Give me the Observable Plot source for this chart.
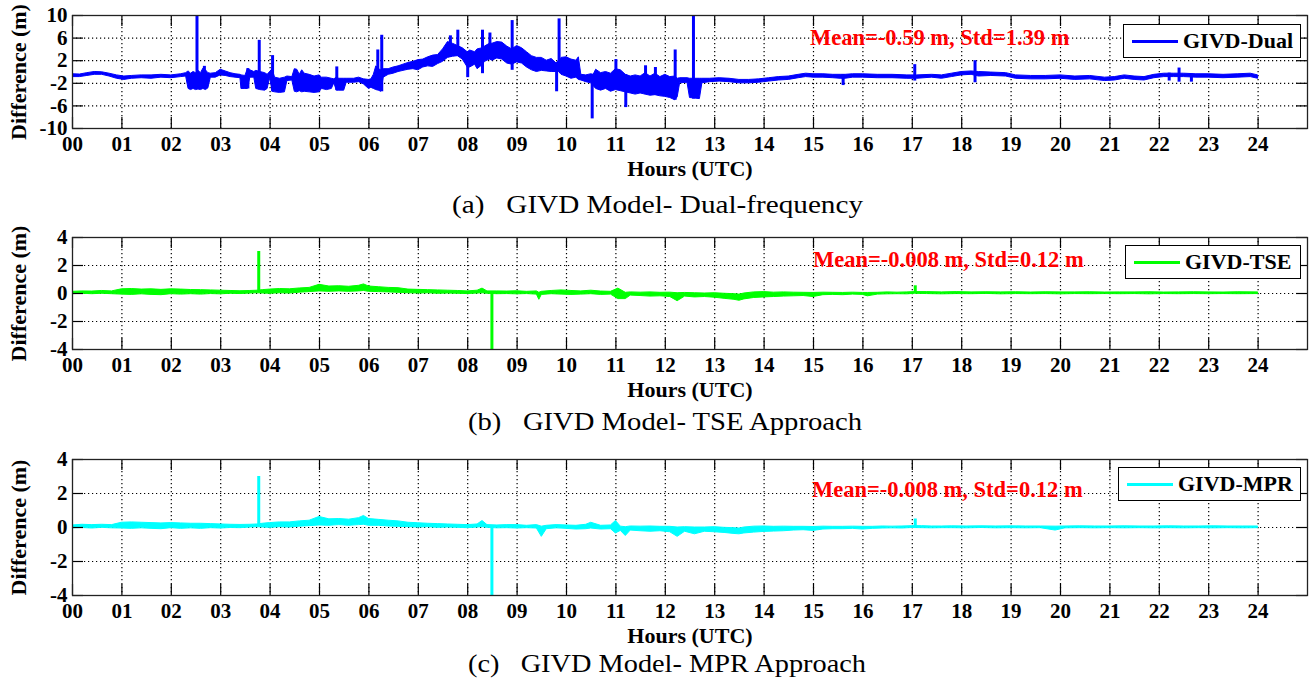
<!DOCTYPE html>
<html><head><meta charset="utf-8">
<script src="https://cdn.jsdelivr.net/npm/d3@7"></script>
<script src="https://cdn.jsdelivr.net/npm/@observablehq/plot@0.6"></script>
<style>
html,body{margin:0;padding:0;background:#fff;overflow:hidden;}
#fig{position:relative;width:1314px;height:682px;font-family:"Liberation Serif","Times New Roman",serif;color:#000;}
.panel{position:absolute;left:0;}
.caption{position:absolute;font-size:25px;line-height:25px;white-space:pre;transform-origin:0 50%;}
.stat{position:absolute;color:#ff0000;font-weight:bold;font-size:22.5px;line-height:22px;white-space:pre;}
.legend{position:absolute;border:1px solid #000;background:#fff;display:flex;align-items:center;font-weight:bold;font-size:22px;box-sizing:border-box;}
.legend .sw{display:inline-block;width:46px;height:0;border-top:3px solid;margin:0 5px 0 8px;}
</style></head>
<body><div id="fig"></div>
<script>
// ---------- shared axis values ----------
const hourTicks = [0,1,2,3,4,5,6,7,8,9,10,11,12,13,14,15,16,17,18,19,20,21,22,23,24];
const hourLabels = ["00","01","02","03","04","05","06","07","08","09","10","11","12","13","14","15","16","17","18","19","20","21","22","23","24"];
const dualTicks = [-10,-6,-2,2,6,10];
const approachTicks = [-4,-2,0,2,4];

// ---------- (a) GIVD-Dual : band (low/high envelope of the trace) ----------
const dualHour = [
0.00,0.15,0.30,0.45,0.60,0.75,0.90,1.05,1.20,1.40,
1.60,1.80,2.00,2.20,2.30,2.35,2.40,2.45,2.50,2.55,
2.60,2.65,2.70,2.75,2.80,2.90,3.00,3.10,3.20,3.30,
3.40,3.42,3.50,3.55,3.60,3.68,3.72,3.80,3.90,3.95,
4.00,4.05,4.10,4.20,4.30,4.35,4.45,4.50,4.55,4.60,
4.65,4.70,4.80,4.90,5.00,5.05,5.15,5.25,5.30,5.35,
5.40,5.50,5.55,5.70,5.80,5.90,6.00,6.05,6.10,6.15,
6.20,6.25,6.30,6.40,6.50,6.60,6.70,6.80,6.90,7.00,
7.10,7.20,7.30,7.40,7.50,7.60,7.70,7.80,7.90,8.00,
8.05,8.15,8.20,8.30,8.35,8.45,8.50,8.60,8.70,8.80,
8.90,9.00,9.10,9.20,9.30,9.40,9.50,9.60,9.70,9.80,
9.85,9.90,10.00,10.10,10.20,10.25,10.30,10.40,10.50,10.55,
10.60,10.70,10.80,10.90,11.00,11.10,11.20,11.30,11.40,11.50,
11.60,11.70,11.80,11.90,12.00,12.10,12.20,12.25,12.30,12.45,
12.50,12.60,12.70,12.75,12.90,13.10,13.30,13.50,13.70,13.90,
14.10,14.30,14.50,14.70,14.85,15.00,15.20,15.40,15.55,15.65,
15.80,16.00,16.30,16.60,16.90,17.10,17.40,17.60,17.80,18.00,
18.20,18.35,18.60,18.90,19.10,19.40,19.70,20.00,20.30,20.60,
20.90,21.10,21.30,21.50,21.70,21.90,22.10,22.30,22.50,22.75,
23.00,23.30,23.60,23.85,24.00];
const dualLow = [
-0.9,-0.9,-0.7,-0.5,-0.5,-0.8,-1.2,-1.4,-1.2,-1.1,
-1.2,-1.0,-1.1,-0.9,-0.8,-3.0,-3.2,-3.0,-3.2,-3.1,
-3.2,-3.0,-3.2,-2.9,-1.0,-1.0,-0.6,-0.7,-0.9,-1.0,
-1.1,-3.0,-3.0,-3.0,-1.0,-1.0,-3.0,-3.2,-3.3,-3.0,
-1.0,-3.5,-3.6,-3.7,-3.6,-1.6,-1.5,-3.5,-3.6,-3.4,
-3.6,-3.5,-3.6,-3.7,-3.6,-3.0,-3.2,-3.0,-2.0,-3.3,
-3.3,-3.3,-1.9,-1.9,-1.8,-2.2,-3.0,-2.8,-3.0,-3.2,
-3.3,-3.5,-1.0,-0.5,-0.3,0.0,0.2,0.4,0.5,0.3,
0.8,1.0,0.9,1.4,1.8,2.5,2.7,2.8,2.2,0.8,
0.8,1.3,0.5,1.2,1.8,2.2,2.0,2.4,2.2,1.5,
1.3,1.7,1.5,0.8,0.3,0.0,0.2,0.1,0.0,0.0,
0.0,-0.5,-0.8,-1.2,-1.0,-1.4,-1.5,-1.8,-2.0,-2.5,
-3.0,-3.3,-3.0,-3.5,-3.2,-3.4,-3.6,-3.8,-4.0,-3.8,
-4.0,-4.2,-4.1,-4.3,-4.4,-4.6,-5.0,-4.5,-2.0,-1.9,
-4.6,-4.7,-4.8,-2.0,-1.8,-1.7,-1.8,-2.0,-2.0,-1.9,
-1.7,-1.5,-1.4,-1.1,-0.9,-1.0,-1.0,-1.1,-1.2,-1.2,
-1.0,-1.0,-1.1,-1.1,-1.2,-1.2,-1.0,-1.2,-0.9,-0.6,
-0.5,-0.8,-0.7,-0.8,-1.2,-1.3,-1.3,-1.2,-1.4,-1.3,
-1.6,-1.5,-1.2,-1.4,-1.5,-1.1,-0.9,-0.9,-0.9,-1.0,
-1.0,-1.1,-1.0,-0.9,-1.2];
const dualHigh = [
-0.4,-0.45,-0.2,0.0,-0.05,-0.3,-0.6,-0.8,-0.7,-0.6,
-0.6,-0.5,-0.6,-0.4,-0.2,0.1,-0.3,0.0,-0.2,0.2,
-0.2,0.6,0.3,-0.2,-0.3,-0.2,0.4,0.1,-0.2,-0.4,
-0.5,-0.6,-0.7,0.5,0.3,0.0,0.2,0.0,-0.2,-0.5,
0.0,0.5,-1.0,-1.2,-1.0,-0.8,-0.9,0.5,0.4,-0.5,
0.3,-0.3,-0.5,-0.8,-0.6,-1.0,-1.0,-1.2,-1.3,-1.0,
-1.2,-1.2,-1.2,-1.2,-1.0,-1.3,-1.4,-1.3,-0.5,1.0,
0.5,0.3,0.5,0.5,0.8,1.0,1.3,1.6,1.8,2.1,
2.2,2.6,2.9,3.0,4.0,5.3,5.0,4.6,4.2,3.5,
3.8,3.5,4.0,4.2,4.5,5.0,5.0,5.3,5.2,4.5,
4.0,4.6,4.2,3.5,2.8,2.5,2.5,2.0,2.3,1.5,
2.0,2.5,2.6,2.2,2.0,2.6,-0.5,-0.6,-0.4,-0.5,
0.4,-0.2,0.0,-0.3,0.5,0.3,-0.5,-0.8,-0.6,-0.8,
-0.2,-0.8,-0.3,-0.9,-0.5,-0.9,-0.8,-1.2,-1.1,-1.1,
-1.2,-1.2,-1.2,-1.2,-1.2,-1.1,-1.2,-1.4,-1.4,-1.3,
-1.1,-0.9,-0.8,-0.5,-0.3,-0.4,-0.4,-0.5,-0.5,-0.5,
-0.4,-0.4,-0.5,-0.5,-0.6,-0.6,-0.5,-0.6,-0.3,0.0,
0.1,0.0,-0.1,-0.2,-0.6,-0.7,-0.7,-0.6,-0.8,-0.7,
-1.0,-0.9,-0.6,-0.8,-0.9,-0.5,-0.3,-0.3,-0.3,-0.4,
-0.4,-0.5,-0.4,-0.3,-0.6];
// (a) isolated spikes
const dualSpikeHour = [2.52,2.67,3.55,3.78,4.05,5.35,6.18,6.26,7.65,7.80,8.00,8.30,8.45,8.90,9.80,9.85,10.52,11.00,11.20,11.60,11.80,12.20,12.57,15.60,17.05,18.27,22.20,22.40,22.65];
const dualSpikeLow  = [-3.0,-3.0,-3.0,-3.0,-3.5,-3.3,-3.2,-3.5,2.6,2.8,-1.0,-0.3,2.2,0.3,-3.5,0.0,-8.3,-3.2,-6.3,-4.0,-4.1,-5.0,-4.8,-2.4,-1.6,-1.9,-1.6,-1.8,-1.8];
const dualSpikeHigh = [10,1.0,0.6,5.6,2.9,0.9,3.9,6.5,6.4,7.4,3.5,7.4,6.9,9.1,1.5,9.4,-0.5,2.2,-0.5,1.1,0.8,3.9,10,-0.5,1.3,2.0,-0.2,0.7,-0.4];

// ---------- (b) GIVD-TSE ----------
const tseHour = [
0.0,0.2,0.4,0.6,0.8,1.0,1.2,1.4,1.6,1.8,
2.0,2.2,2.4,2.6,2.8,3.0,3.2,3.4,3.6,3.75,
3.85,4.0,4.2,4.4,4.6,4.8,5.0,5.2,5.4,5.6,
5.8,5.9,6.0,6.2,6.4,6.6,6.8,7.0,7.2,7.4,
7.6,7.8,8.0,8.2,8.3,8.4,8.6,8.8,9.0,9.2,
9.4,9.45,9.5,9.7,9.9,10.1,10.3,10.5,10.7,10.9,
11.05,11.2,11.3,11.5,11.7,11.9,12.1,12.25,12.4,12.6,
12.8,13.0,13.2,13.4,13.5,13.6,13.8,14.0,14.2,14.4,
14.6,14.8,15.0,15.2,15.4,15.6,15.8,16.0,16.1,16.3,
16.5,16.7,16.9,17.05,17.3,17.6,17.9,18.2,18.5,18.8,
19.1,19.4,19.7,20.0,20.3,20.6,20.9,21.2,21.5,21.8,
22.1,22.4,22.7,23.0,23.3,23.6,24.0];
const tseLow = [
-0.05,-0.02,-0.05,-0.02,-0.05,-0.08,-0.10,-0.06,-0.10,-0.12,
-0.05,-0.08,-0.05,-0.08,-0.04,-0.06,-0.02,-0.04,0.00,0.02,
0.00,-0.02,0.02,0.00,0.06,0.10,0.15,0.12,0.15,0.12,
0.15,0.18,0.12,0.10,0.08,0.05,0.02,0.00,0.02,-0.02,
0.00,-0.02,-0.04,0.00,0.02,-0.02,-0.05,-0.04,-0.06,-0.04,
-0.08,-0.45,-0.10,-0.05,-0.08,-0.10,-0.08,-0.05,-0.10,-0.08,
-0.40,-0.40,-0.15,-0.18,-0.22,-0.20,-0.25,-0.55,-0.22,-0.28,
-0.25,-0.30,-0.38,-0.45,-0.52,-0.42,-0.32,-0.28,-0.25,-0.22,
-0.20,-0.18,-0.25,-0.12,-0.10,-0.12,-0.08,-0.10,-0.20,-0.08,
-0.06,-0.05,-0.06,-0.02,-0.04,-0.06,-0.04,-0.05,-0.03,-0.06,
-0.04,-0.05,-0.04,-0.06,-0.04,-0.05,-0.04,-0.05,-0.04,-0.06,
-0.04,-0.05,-0.04,-0.05,-0.04,-0.05,-0.04];
const tseHigh = [
0.12,0.15,0.14,0.18,0.15,0.30,0.32,0.28,0.30,0.26,
0.30,0.28,0.25,0.24,0.22,0.20,0.18,0.16,0.18,0.20,
0.24,0.28,0.32,0.30,0.36,0.40,0.62,0.50,0.52,0.48,
0.55,0.65,0.50,0.45,0.40,0.38,0.28,0.26,0.24,0.22,
0.20,0.18,0.15,0.20,0.35,0.15,0.15,0.14,0.16,0.12,
0.15,0.05,0.12,0.18,0.22,0.18,0.15,0.20,0.14,0.12,
0.35,0.05,0.08,0.06,0.08,0.05,0.06,0.02,0.04,0.02,
0.00,0.02,-0.02,-0.05,-0.08,0.00,0.08,0.10,0.06,0.08,
0.06,0.05,0.04,0.06,0.05,0.04,0.06,0.04,0.04,0.05,
0.08,0.06,0.08,0.10,0.10,0.08,0.10,0.08,0.09,0.08,
0.09,0.07,0.09,0.08,0.08,0.09,0.07,0.08,0.08,0.09,
0.07,0.08,0.09,0.08,0.07,0.09,0.08];
const tseSpikeHour = [3.77, 8.49, 17.06];
const tseSpikeLow  = [0.1, -4.0, 0.05];
const tseSpikeHigh = [3.0, 0.0, 0.55];

// ---------- (c) GIVD-MPR ----------
const mprHour = [
0.0,0.2,0.4,0.6,0.8,1.0,1.2,1.4,1.6,1.8,
2.0,2.2,2.4,2.6,2.8,3.0,3.2,3.4,3.6,3.75,
3.85,4.0,4.2,4.4,4.6,4.8,5.0,5.2,5.4,5.6,
5.8,5.9,6.0,6.2,6.4,6.6,6.8,7.0,7.2,7.4,
7.6,7.8,8.0,8.2,8.3,8.4,8.6,8.8,9.0,9.2,
9.4,9.5,9.6,9.8,10.0,10.2,10.4,10.5,10.7,10.9,
11.0,11.1,11.2,11.3,11.5,11.7,11.9,12.1,12.25,12.4,
12.6,12.8,13.0,13.2,13.4,13.5,13.6,13.8,14.0,14.2,
14.4,14.6,14.8,15.0,15.2,15.4,15.6,15.8,16.0,16.2,
16.4,16.6,16.8,17.0,17.2,17.4,17.6,17.8,18.1,18.4,
18.7,19.0,19.3,19.6,19.9,20.1,20.4,20.7,21.0,21.3,
21.6,21.9,22.2,22.5,22.8,23.1,23.4,23.7,24.0];
const mprLow = [
-0.05,-0.03,-0.06,-0.02,-0.05,-0.06,-0.08,-0.05,-0.08,-0.10,
-0.04,-0.08,-0.05,-0.08,-0.04,-0.06,-0.03,-0.04,0.00,0.02,
0.00,-0.02,0.02,0.00,0.05,0.08,0.12,0.10,0.14,0.10,
0.14,0.16,0.10,0.10,0.06,0.04,0.02,0.00,0.02,-0.02,
0.00,-0.02,-0.04,0.00,0.02,-0.02,-0.05,-0.04,-0.06,-0.04,
-0.06,-0.55,-0.10,-0.05,-0.08,-0.12,-0.10,-0.06,-0.12,-0.10,
-0.35,-0.20,-0.50,-0.18,-0.22,-0.25,-0.22,-0.28,-0.55,-0.25,
-0.40,-0.25,-0.28,-0.32,-0.38,-0.40,-0.35,-0.30,-0.26,-0.24,
-0.22,-0.18,-0.16,-0.20,-0.12,-0.10,-0.10,-0.08,-0.12,-0.08,
-0.06,-0.05,-0.06,-0.03,-0.04,-0.05,-0.04,-0.04,-0.05,-0.03,
-0.05,-0.04,-0.05,-0.04,-0.18,-0.05,-0.04,-0.05,-0.04,-0.05,
-0.04,-0.05,-0.04,-0.05,-0.04,-0.05,-0.04,-0.05,-0.04];
const mprHigh = [
0.12,0.16,0.14,0.16,0.14,0.28,0.30,0.28,0.26,0.24,
0.26,0.24,0.22,0.22,0.20,0.18,0.16,0.15,0.16,0.18,
0.22,0.26,0.30,0.30,0.36,0.40,0.62,0.48,0.50,0.46,
0.55,0.68,0.50,0.45,0.40,0.36,0.28,0.25,0.22,0.20,
0.18,0.16,0.14,0.18,0.38,0.14,0.12,0.14,0.14,0.10,
0.14,0.05,0.10,0.14,0.12,0.10,0.16,0.28,0.10,0.12,
0.38,0.05,0.02,0.06,0.05,0.06,0.04,0.04,0.00,0.02,
0.00,0.00,0.02,-0.02,-0.04,-0.06,0.00,0.05,0.06,0.04,
0.05,0.04,0.04,0.03,0.05,0.04,0.04,0.05,0.04,0.04,
0.06,0.05,0.06,0.08,0.08,0.06,0.06,0.07,0.06,0.07,
0.06,0.07,0.06,0.06,0.05,0.06,0.07,0.06,0.06,0.07,
0.06,0.06,0.07,0.06,0.06,0.07,0.06,0.06,0.06];
const mprSpikeHour = [3.77, 8.49, 17.06];
const mprSpikeLow  = [0.1, -4.0, 0.05];
const mprSpikeHigh = [3.0, 0.0, 0.5];

// ---------- texts ----------
const seriesNames = ["GIVD-Dual", "GIVD-TSE", "GIVD-MPR"];
const statTexts = ["Mean=-0.59 m, Std=1.39 m", "Mean=-0.008 m, Std=0.12 m", "Mean=-0.008 m, Std=0.12 m"];
const captionTags = ["(a)", "(b)", "(c)"];
const captionTexts = ["GIVD Model- Dual-frequency", "GIVD Model- TSE Approach", "GIVD Model- MPR Approach"];
const xTitle = "Hours (UTC)";
const yTitle = "Difference (m)";

// ---------- helpers ----------
function rows(h, lo, hi) {
  if (h.length !== lo.length || h.length !== hi.length) throw new Error("length mismatch " + h.length + "/" + lo.length + "/" + hi.length);
  return h.map((d, i) => ({hour: d, lo: lo[i], hi: hi[i]}));
}

const fig = document.getElementById("fig");
const ML = 72, MR = 7, MT = 15, W = 1314, TICK = 11;

function makePanel({top, height, frameH, yDomain, yTicks, env, spikes, color}) {
  const frameW = W - ML - MR;
  const grid = yTicks.filter(t => t !== yDomain[0] && t !== yDomain[1]);
  const svg = Plot.plot({
    width: W, height, marginTop: MT, marginLeft: ML, marginRight: MR, marginBottom: height - MT - frameH,
    style: {fontFamily: "'Liberation Serif','Times New Roman',serif", fontWeight: "bold", fontSize: "21px", color: "#000", background: "transparent", overflow: "visible"},
    x: {domain: [0, 25], ticks: hourTicks, tickFormat: d => hourLabels[hourTicks.indexOf(d)], tickSize: 0, tickPadding: 8, label: null},
    y: {domain: yDomain, ticks: yTicks, tickFormat: d => String(d), tickSize: 0, tickPadding: 5, label: null},
    marks: [
      Plot.ruleX(hourTicks.slice(1), {x: d => d, stroke: "#000", strokeWidth: 1.2, strokeDasharray: "1.2,2.8"}),
      Plot.ruleY(grid, {y: d => d, stroke: "#000", strokeWidth: 1.2, strokeDasharray: "1.2,2.8"}),
      Plot.areaY(env, {x: "hour", y1: "lo", y2: "hi", fill: color, stroke: color, strokeWidth: 1, clip: true}),
      Plot.ruleX(spikes, {x: "hour", y1: "lo", y2: "hi", stroke: color, strokeWidth: 3, clip: true}),
      Plot.tickX(hourTicks, {x: d => d, stroke: "#000", strokeWidth: 1.2, insetTop: frameH - TICK}),
      Plot.tickX(hourTicks, {x: d => d, stroke: "#000", strokeWidth: 1.2, insetBottom: frameH - TICK}),
      Plot.tickY(yTicks, {y: d => d, stroke: "#000", strokeWidth: 1.2, insetRight: frameW - TICK}),
      Plot.tickY(yTicks, {y: d => d, stroke: "#000", strokeWidth: 1.2, insetLeft: frameW - TICK}),
      Plot.frame({stroke: "#222", strokeWidth: 1.3}),
      Plot.text([xTitle], {text: d => d, frameAnchor: "bottom", lineAnchor: "middle", textAnchor: "middle", dy: 40, fontSize: 22, fontWeight: "bold", fill: "#000"}),
      Plot.text([yTitle], {text: d => d, frameAnchor: "left", lineAnchor: "middle", textAnchor: "middle", dx: -54, rotate: -90, fontSize: 22, fontWeight: "bold", fill: "#000"})
    ]
  });
  const wrap = document.createElement("div");
  wrap.className = "panel";
  wrap.style.top = top + "px";
  wrap.appendChild(svg);
  fig.appendChild(wrap);
}

function addStat(text, left, top) {
  const d = document.createElement("div");
  d.className = "stat"; d.textContent = text;
  d.style.left = left + "px"; d.style.top = top + "px";
  fig.appendChild(d);
}
function addLegend(name, color, left, top, width) {
  const d = document.createElement("div");
  d.className = "legend";
  d.style.left = left + "px"; d.style.top = top + "px"; d.style.width = width + "px"; d.style.height = "34px";
  const sw = document.createElement("span"); sw.className = "sw"; sw.style.borderColor = color;
  const t = document.createElement("span"); t.textContent = name;
  d.appendChild(sw); d.appendChild(t);
  fig.appendChild(d);
}
function addCaption(tag, text, left, top, targetWidth) {
  const d = document.createElement("div");
  d.className = "caption";
  d.style.left = left + "px"; d.style.top = top + "px";
  d.textContent = tag + "   " + text;
  fig.appendChild(d);
  const w = d.getBoundingClientRect().width;
  d.style.transform = "scaleX(" + (targetWidth / w) + ")";
}

makePanel({top: 0, height: 185, frameH: 113, yDomain: [-10, 10], yTicks: dualTicks,
  env: rows(dualHour, dualLow, dualHigh), spikes: rows(dualSpikeHour, dualSpikeLow, dualSpikeHigh), color: "#0000ff"});
makePanel({top: 222, height: 185, frameH: 112, yDomain: [-4, 4], yTicks: approachTicks,
  env: rows(tseHour, tseLow, tseHigh), spikes: rows(tseSpikeHour, tseSpikeLow, tseSpikeHigh), color: "#00ff00"});
makePanel({top: 444, height: 205, frameH: 136, yDomain: [-4, 4], yTicks: approachTicks,
  env: rows(mprHour, mprLow, mprHigh), spikes: rows(mprSpikeHour, mprSpikeLow, mprSpikeHigh), color: "#00ffff"});

addStat(statTexts[0], 810, 27);
addStat(statTexts[1], 813, 249);
addStat(statTexts[2], 812, 479);
addLegend(seriesNames[0], "#0000ff", 1123, 24, 178);
addLegend(seriesNames[1], "#00ff00", 1125, 245, 176);
addLegend(seriesNames[2], "#00ffff", 1118, 467, 183);
addCaption(captionTags[0], captionTexts[0], 452, 192, 411);
addCaption(captionTags[1], captionTexts[1], 468, 409, 394);
addCaption(captionTags[2], captionTexts[2], 468, 651, 398);
</script></body></html>
